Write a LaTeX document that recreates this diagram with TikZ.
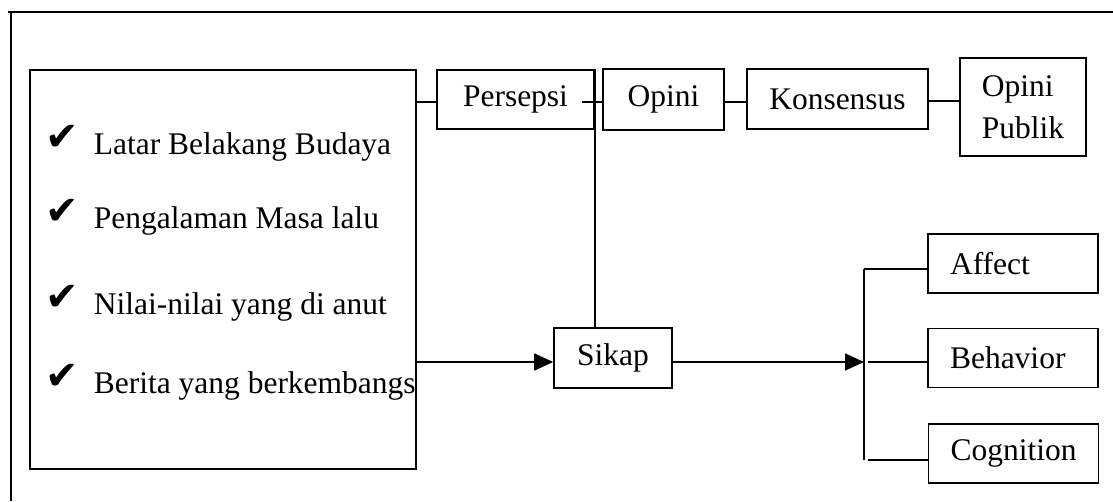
\documentclass[tikz,border=0pt]{standalone}
\usepackage{fontspec}
\setmainfont{Liberation Serif}
\newfontfamily\symfont{DejaVu Sans}
\usetikzlibrary{arrows.meta}
\begin{document}
\begin{tikzpicture}[x=1pt,y=-1pt,
  line width=1.6pt,
  every node/.style={font=\fontsize{31.5}{42}\selectfont},
  box/.style={draw, inner sep=0pt, align=center},
  lbox/.style={draw, inner xsep=22pt, inner ysep=0pt, text width=126pt, align=left, minimum height=59pt},
  item/.style={anchor=base west, inner sep=0pt},
  chk/.style={anchor=base west, inner sep=0pt, font=\symfont\fontsize{40}{40}\selectfont},
  arr/.style={-{Triangle[length=19pt,width=17pt]}}
]
\useasboundingbox (0,0) rectangle (1113,501);
% outer frame (top and left visible)
\draw (8,12) -- (1113,12);
\draw (11,12) -- (11,501);

% big box with list
\node[box, minimum width=386pt, minimum height=399pt] (big) at (223,269.5) {};
\node[chk] (c1) at (45,150) {✔};
\node[item] (t1) at (93,154) {Latar Belakang Budaya};
\node[chk] (c2) at (45,224) {✔};
\node[item] (t2) at (93,228) {Pengalaman Masa lalu};
\node[chk] (c3) at (45,310) {✔};
\node[item] (t3) at (93,314) {Nilai-nilai yang di anut};
\node[chk] (c4) at (45,389) {✔};
\node[item] (t4) at (93,393) {Berita yang berkembangs};

% top row
\node[box, minimum width=157pt, minimum height=59pt] (pers) at (515.5,99.5) {Persepsi};
\node[box, minimum width=121pt, minimum height=61pt] (op) at (663.5,99.5) {Opini};
\node[box, minimum width=181pt, minimum height=60pt] (kons) at (837.5,99) {Konsensus};
\node[box, align=left, minimum width=126pt, minimum height=98pt] (pub) at (1023,107) {Opini\\Publik};

% middle
\node[box, minimum width=118pt, minimum height=60pt] (sikap) at (613,358) {Sikap};

% right column
\node[lbox] (aff) at (1013,263.5) {Affect};
\node[lbox] (beh) at (1013,358) {Behavior};
\node[lbox] (cog) at (1013.5,453.5) {Cognition};

% connectors
\draw (big.east |- 0,102) -- (pers.west |- 0,102);
\coordinate (pin) at (582,102);
\draw (pin) -- (op.west |- pin);
\draw (op.east |- 0,102) -- (kons.west |- 0,102);
\draw (kons.east |- 0,101) -- (pub.west |- 0,101);
\draw (pers.north east) -- (pers.east |- sikap.north);

\draw[arr] (big.east |- 0,362) -- (sikap.west |- 0,362);
\coordinate (fork) at (864,362);
\draw[arr] (sikap.east |- fork) -- (fork);
\coordinate (ftop) at (864,269);
\coordinate (fbot) at (864,460);
\draw (ftop) -- (fbot);
\draw (ftop) -- (aff.west |- ftop);
\draw (868,362) coordinate (fmid) -- (beh.west |- fmid);
\draw (868,460) coordinate (fb2) -- (cog.west |- fb2);
\end{tikzpicture}
\end{document}
